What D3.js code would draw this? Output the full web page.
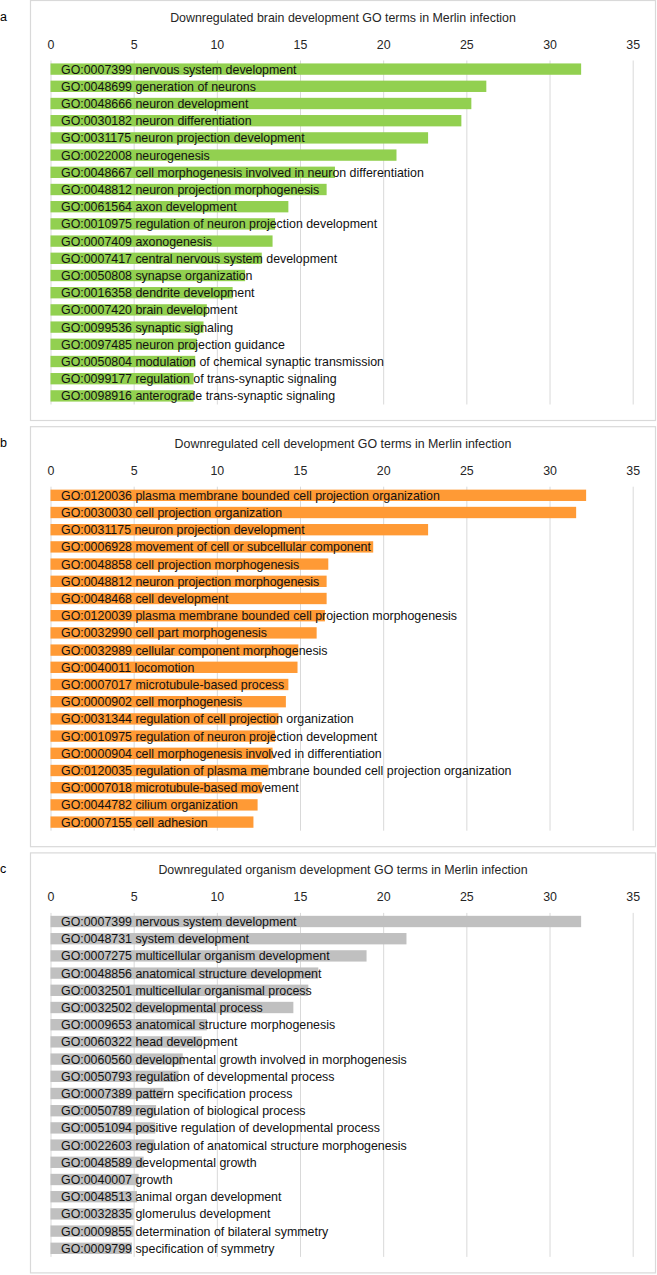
<!DOCTYPE html>
<html>
<head>
<meta charset="utf-8">
<script src="https://cdn.jsdelivr.net/npm/d3@7"></script>
<style>
  html, body { margin: 0; padding: 0; background: #fff; }
  svg { display: block; font-family: "Liberation Sans", Arial, sans-serif; }
</style>
</head>
<body>
<svg id="chart" width="657" height="1275"></svg>
<script>
const xTicks = [0, 5, 10, 15, 20, 25, 30, 35];
const panelLetters = ["a", "b", "c"];
const panelTitles = [
  "Downregulated brain development GO terms in Merlin infection",
  "Downregulated cell development GO terms in Merlin infection",
  "Downregulated organism development GO terms in Merlin infection"
];
const panelColors = ["#92d050", "#ff9a35", "#c0c0c0"];

const termsA = [
  "GO:0007399 nervous system development",
  "GO:0048699 generation of neurons",
  "GO:0048666 neuron development",
  "GO:0030182 neuron differentiation",
  "GO:0031175 neuron projection development",
  "GO:0022008 neurogenesis",
  "GO:0048667 cell morphogenesis involved in neuron differentiation",
  "GO:0048812 neuron projection morphogenesis",
  "GO:0061564 axon development",
  "GO:0010975 regulation of neuron projection development",
  "GO:0007409 axonogenesis",
  "GO:0007417 central nervous system development",
  "GO:0050808 synapse organization",
  "GO:0016358 dendrite development",
  "GO:0007420 brain development",
  "GO:0099536 synaptic signaling",
  "GO:0097485 neuron projection guidance",
  "GO:0050804 modulation of chemical synaptic transmission",
  "GO:0099177 regulation of trans-synaptic signaling",
  "GO:0098916 anterograde trans-synaptic signaling"
];
const valuesA = [31.9, 26.2, 25.3, 24.7, 22.7, 20.8, 17.1, 16.6, 14.3, 13.5,
                 13.35, 12.7, 11.7, 10.95, 9.4, 9.2, 8.8, 8.7, 8.6, 8.6];

const termsB = [
  "GO:0120036 plasma membrane bounded cell projection organization",
  "GO:0030030 cell projection organization",
  "GO:0031175 neuron projection development",
  "GO:0006928 movement of cell or subcellular component",
  "GO:0048858 cell projection morphogenesis",
  "GO:0048812 neuron projection morphogenesis",
  "GO:0048468 cell development",
  "GO:0120039 plasma membrane bounded cell projection morphogenesis",
  "GO:0032990 cell part morphogenesis",
  "GO:0032989 cellular component morphogenesis",
  "GO:0040011 locomotion",
  "GO:0007017 microtubule-based process",
  "GO:0000902 cell morphogenesis",
  "GO:0031344 regulation of cell projection organization",
  "GO:0010975 regulation of neuron projection development",
  "GO:0000904 cell morphogenesis involved in differentiation",
  "GO:0120035 regulation of plasma membrane bounded cell projection organization",
  "GO:0007018 microtubule-based movement",
  "GO:0044782 cilium organization",
  "GO:0007155 cell adhesion"
];
const valuesB = [32.2, 31.6, 22.7, 19.4, 16.7, 16.6, 16.6, 16.5, 16.0, 14.9,
                 14.85, 14.3, 14.15, 13.7, 13.5, 13.35, 13.1, 12.7, 12.45, 12.2];

const termsC = [
  "GO:0007399 nervous system development",
  "GO:0048731 system development",
  "GO:0007275 multicellular organism development",
  "GO:0048856 anatomical structure development",
  "GO:0032501 multicellular organismal process",
  "GO:0032502 developmental process",
  "GO:0009653 anatomical structure morphogenesis",
  "GO:0060322 head development",
  "GO:0060560 developmental growth involved in morphogenesis",
  "GO:0050793 regulation of developmental process",
  "GO:0007389 pattern specification process",
  "GO:0050789 regulation of biological process",
  "GO:0051094 positive regulation of developmental process",
  "GO:0022603 regulation of anatomical structure morphogenesis",
  "GO:0048589 developmental growth",
  "GO:0040007 growth",
  "GO:0048513 animal organ development",
  "GO:0032835 glomerulus development",
  "GO:0009855 determination of bilateral symmetry",
  "GO:0009799 specification of symmetry"
];
const valuesC = [31.9, 21.4, 19.0, 16.1, 15.5, 14.6, 9.4, 9.1, 7.95, 7.7,
                 6.8, 6.35, 6.3, 6.25, 5.6, 5.3, 5.2, 5.0, 5.0, 4.9];

const panels = [
  { terms: termsA, values: valuesA },
  { terms: termsB, values: valuesB },
  { terms: termsC, values: valuesC }
];

const svg = d3.select("#chart");
const panelStep = 426.2;
const plotTop = 60, plotBottom = 404;
const fontSize = 12.4;

const x = d3.scaleLinear().domain([0, 35]).range([50.5, 632.7]);

panels.forEach((p, i) => {
  const g = svg.append("g").attr("transform", `translate(0,${0.5 + i * panelStep})`);

  // frame
  g.append("rect")
    .attr("x", 30.5).attr("y", 0)
    .attr("width", 625).attr("height", 420)
    .attr("fill", "#fff").attr("stroke", "#d9d9d9").attr("stroke-width", 1.2);

  // panel letter
  g.append("text")
    .attr("x", 0).attr("y", 20)
    .attr("font-size", 12.5).attr("fill", "#000")
    .text(panelLetters[i]);

  // title
  g.append("text")
    .attr("x", 343).attr("y", 21.5)
    .attr("text-anchor", "middle")
    .attr("font-size", fontSize).attr("fill", "#262626")
    .text(panelTitles[i]);

  // gridlines
  const grid = g.append("g")
    .attr("transform", `translate(0,${plotTop})`)
    .call(d3.axisBottom(x).tickValues(xTicks).tickSize(plotBottom - plotTop).tickFormat(""));
  grid.select(".domain").remove();
  grid.selectAll(".tick line").attr("stroke", "#d9d9d9").attr("stroke-width", 1);

  // tick labels on top
  const ax = g.append("g")
    .attr("transform", `translate(0,48.5)`)
    .call(d3.axisTop(x).tickValues(xTicks).tickSize(0).tickPadding(0));
  ax.select(".domain").remove();
  ax.selectAll("text")
    .attr("font-size", fontSize)
    .attr("font-family", "Liberation Sans, Arial, sans-serif")
    .attr("fill", "#262626");

  // bars
  const y = d3.scaleBand().domain(p.terms).range([plotTop, plotBottom])
    .paddingInner(0.34).paddingOuter(0.17);

  g.append("g").selectAll("rect")
    .data(p.terms)
    .join("rect")
    .attr("x", x(0))
    .attr("y", d => y(d))
    .attr("width", (d, j) => x(p.values[j]) - x(0))
    .attr("height", y.bandwidth())
    .attr("fill", panelColors[i]);

  // labels
  g.append("g").selectAll("text")
    .data(p.terms)
    .join("text")
    .attr("x", 61)
    .attr("y", d => y(d) + y.bandwidth() / 2)
    .attr("dy", "0.36em")
    .attr("font-size", fontSize)
    .attr("fill", "#111")
    .text(d => d);
});
</script>
</body>
</html>
